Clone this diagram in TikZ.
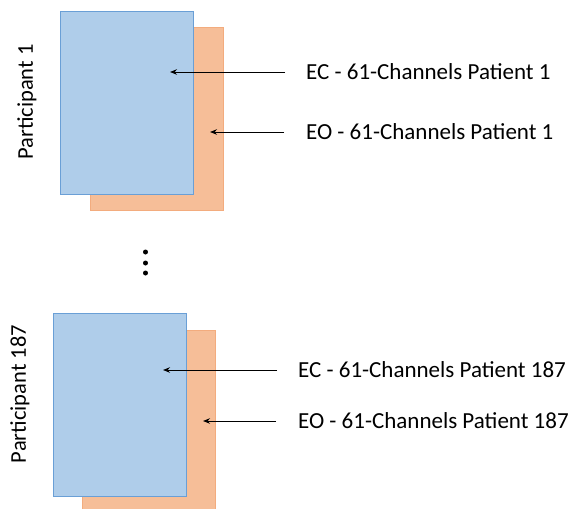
\documentclass[tikz,border=0pt]{standalone}
\usepackage{fontspec}
\setmainfont{Carlito}
\usetikzlibrary{arrows.meta}
\definecolor{bluefill}{HTML}{AFCDEA}
\definecolor{blueline}{HTML}{6A9FD6}
\definecolor{orangefill}{HTML}{F6BE98}
\definecolor{orangeline}{HTML}{F3AC7E}
\tikzset{
  bluesheet/.style={draw=blueline, fill=bluefill, line width=1pt, minimum width=133pt, minimum height=183pt, inner sep=0pt},
  orangesheet/.style={draw=orangeline, fill=orangefill, line width=1pt, minimum width=133pt, minimum height=183pt, inner sep=0pt},
  lbl/.style={font=\fontsize{23}{26}\selectfont, anchor=west, inner sep=0pt},
  plbl/.style={font=\fontsize{22.5}{26}\selectfont, rotate=90, inner sep=0pt},
  arr/.style={-{Stealth[length=7pt,width=5.5pt]}, line width=1pt, black},
  dotn/.style={circle, fill=black, inner sep=0pt, minimum size=5pt}
}
\begin{document}
\begin{tikzpicture}[x=1pt,y=-1pt]
\useasboundingbox (0,0) rectangle (571,509);
\begin{scope}
\clip (0,0) rectangle (571,509);
% group 1
\node[orangesheet] (o1) at (156.5,118.75) {};
\node[bluesheet] (b1) at (126.75,103) {};
% group 2
\node[orangesheet] (o2) at (148.5,421.5) {};
\node[bluesheet] (b2) at (119.5,404.5) {};
\end{scope}
% labels
\node[plbl] (p1) at (27,102) {Participant 1};
\node[plbl] (p2) at (20,394) {Participant 187};
\node[lbl] (ec1) at (306,72) {EC - 61-Channels Patient 1};
\node[lbl] (eo1) at (306,132) {EO - 61-Channels Patient 1};
\node[lbl] (ec2) at (298,370) {EC - 61-Channels Patient 187};
\node[lbl] (eo2) at (298,421) {EO - 61-Channels Patient 187};
% arrow targets
\coordinate (t1) at (170,72);
\coordinate (t2) at (210,132);
\coordinate (t3) at (163,370);
\coordinate (t4) at (203,421);
\draw[arr] ([xshift=-21pt]ec1.west) -- (t1);
\draw[arr] ([xshift=-22pt]eo1.west) -- (t2);
\draw[arr] ([xshift=-21pt]ec2.west) -- (t3);
\draw[arr] ([xshift=-22pt]eo2.west) -- (t4);
% dots
\node[dotn] (d1) at (145.5,252) {};
\node[dotn] (d2) at (145.5,263) {};
\node[dotn] (d3) at (145.5,273) {};
\end{tikzpicture}
\end{document}
